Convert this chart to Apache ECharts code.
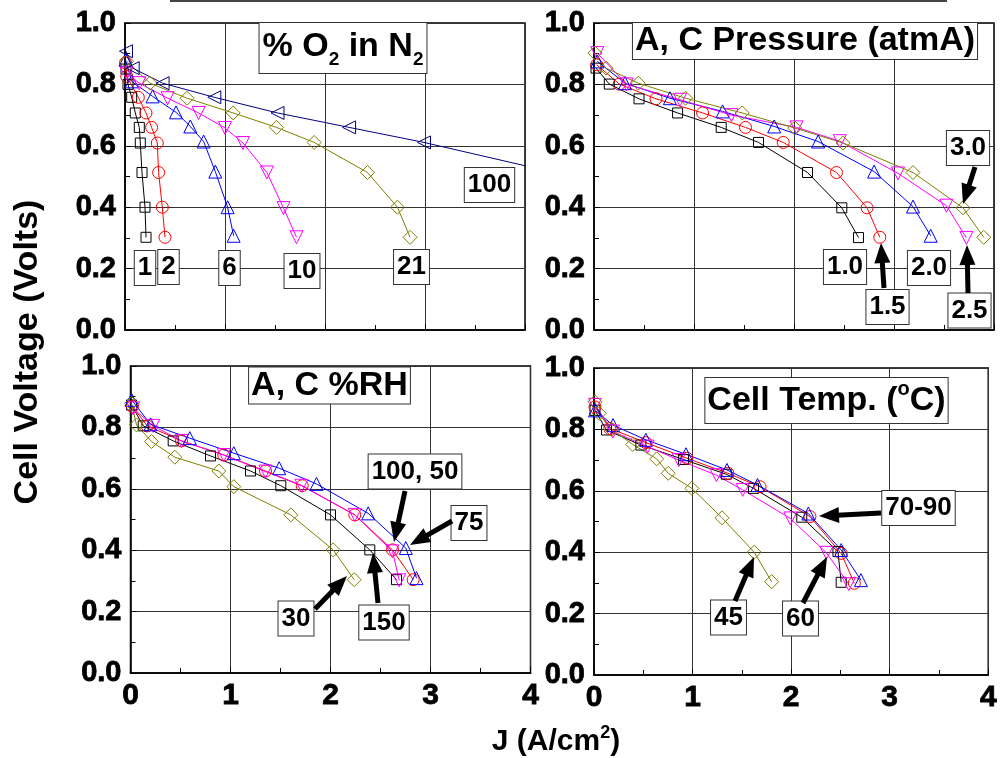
<!DOCTYPE html>
<html><head><meta charset="utf-8">
<script src="https://cdn.jsdelivr.net/npm/echarts@6/dist/echarts.min.js"></script>
<style>html,body{margin:0;padding:0;background:#fff}#c{width:1000px;height:758px}</style>
</head><body><div id="c"></div>
<script>
// ---------- DATA ----------
// Panel 1: % O2 in N2
const o2Names = ['1', '2', '6', '10', '21', '100'];
const o2_1_J = [0.01, 0.03, 0.067, 0.103, 0.143, 0.153, 0.170, 0.200, 0.210];
const o2_1_V = [0.85, 0.80, 0.758, 0.707, 0.660, 0.609, 0.513, 0.400, 0.302];
const o2_2_J = [0.005, 0.017, 0.133, 0.21, 0.266, 0.323, 0.336, 0.373, 0.40];
const o2_2_V = [0.87, 0.826, 0.758, 0.707, 0.66, 0.609, 0.513, 0.40, 0.302];
const o2_6_J = [0.005, 0.067, 0.276, 0.51, 0.653, 0.786, 0.903, 1.026, 1.086];
const o2_6_V = [0.88, 0.81, 0.761, 0.709, 0.663, 0.614, 0.516, 0.40, 0.307];
const o2_10_J = [0.017, 0.143, 0.426, 0.736, 1.0, 1.18, 1.419, 1.585, 1.715];
const o2_10_V = [0.836, 0.804, 0.755, 0.707, 0.658, 0.609, 0.513, 0.397, 0.302];
const o2_21_J = [0.017, 0.25, 0.62, 1.082, 1.515, 1.892, 2.425, 2.724, 2.851];
const o2_21_V = [0.875, 0.804, 0.755, 0.707, 0.66, 0.611, 0.513, 0.40, 0.302];
const o2_100_J = [0.01, 0.077, 0.376, 0.893, 1.525, 2.241, 2.99, 4.6];
const o2_100_V = [0.908, 0.853, 0.804, 0.758, 0.707, 0.66, 0.611, 0.49];

// Panel 2: A, C Pressure (atmA)
const pNames = ['1.0', '1.5', '2.0', '2.5', '3.0'];
const p10_J = [0.02, 0.153, 0.45, 0.836, 1.272, 1.645, 2.135, 2.478, 2.645];
const p10_V = [0.853, 0.801, 0.753, 0.707, 0.66, 0.611, 0.513, 0.398, 0.301];
const p15_J = [0.027, 0.253, 0.62, 1.086, 1.515, 1.892, 2.425, 2.731, 2.858];
const p15_V = [0.864, 0.801, 0.753, 0.707, 0.66, 0.611, 0.513, 0.398, 0.302];
const p20_J = [0.033, 0.31, 0.759, 1.286, 1.802, 2.241, 2.801, 3.19, 3.367];
const p20_V = [0.875, 0.804, 0.755, 0.712, 0.663, 0.614, 0.516, 0.402, 0.307];
const p25_J = [0.033, 0.326, 0.86, 1.375, 2.025, 2.458, 3.04, 3.524, 3.724];
const p25_V = [0.902, 0.80, 0.75, 0.70, 0.66, 0.615, 0.51, 0.405, 0.30];
const p30_J = [0.01, 0.12, 0.443, 0.916, 1.482, 2.008, 2.491, 3.19, 3.69, 3.897];
const p30_V = [0.902, 0.853, 0.804, 0.755, 0.707, 0.658, 0.609, 0.513, 0.398, 0.302];

// Panel 3: A, C %RH
const rhNames = ['150', '100', '50', '75', '30'];
const rh150_J = [0.01, 0.127, 0.427, 0.8, 1.2, 1.503, 2.0, 2.393, 2.66];
const rh150_V = [0.873, 0.805, 0.756, 0.707, 0.658, 0.61, 0.515, 0.401, 0.304];
const rh100_J = [0.02, 0.167, 0.51, 0.933, 1.35, 1.717, 2.243, 2.62, 2.827];
const rh100_V = [0.868, 0.805, 0.756, 0.71, 0.658, 0.61, 0.515, 0.401, 0.304];
const rh50_J = [0.027, 0.227, 0.51, 0.933, 1.35, 1.71, 2.243, 2.62, 2.687];
const rh50_V = [0.862, 0.805, 0.756, 0.71, 0.656, 0.61, 0.515, 0.396, 0.302];
const rh75_J = [0.01, 0.2, 0.593, 1.033, 1.487, 1.86, 2.377, 2.753, 2.86];
const rh75_V = [0.89, 0.81, 0.765, 0.716, 0.667, 0.616, 0.52, 0.407, 0.309];
const rh30_J = [0.01, 0.06, 0.21, 0.443, 0.883, 1.033, 1.603, 2.027, 2.237];
const rh30_V = [0.878, 0.808, 0.754, 0.703, 0.658, 0.607, 0.515, 0.401, 0.304];

// Panel 4: Cell Temp (C)
const tNames = ['70', '80', '90', '60', '45'];
const t70_J = [0.01, 0.127, 0.476, 0.909, 1.342, 1.619, 2.108, 2.475, 2.508];
const t70_V = [0.862, 0.798, 0.749, 0.702, 0.654, 0.608, 0.514, 0.402, 0.302];
const t80_J = [0.01, 0.16, 0.526, 0.943, 1.359, 1.685, 2.191, 2.508, 2.641];
const t80_V = [0.873, 0.803, 0.757, 0.706, 0.657, 0.613, 0.516, 0.396, 0.299];
const t90_J = [0.01, 0.193, 0.526, 0.933, 1.349, 1.659, 2.175, 2.508, 2.708];
const t90_V = [0.862, 0.814, 0.766, 0.719, 0.668, 0.619, 0.526, 0.407, 0.309];
const t60_J = [0.01, 0.193, 0.543, 0.86, 1.242, 1.509, 1.992, 2.358, 2.585];
const t60_V = [0.88, 0.793, 0.744, 0.70, 0.651, 0.603, 0.51, 0.398, 0.296];
const t45_J = [0.01, 0.053, 0.177, 0.393, 0.636, 0.753, 0.992, 1.299, 1.625, 1.802];
const t45_V = [0.89, 0.852, 0.80, 0.751, 0.704, 0.657, 0.608, 0.512, 0.40, 0.304];

// Axis ticks
const xTicks = [0, 1, 2, 3, 4];
const yTicks = [0, 0.2, 0.4, 0.6, 0.8, 1.0];

// ---------- STYLE ----------
const FONT = '"Liberation Sans", Arial, sans-serif';
const C = {black:'#000000', red:'#ff0000', blue:'#0000ff', magenta:'#ff00ff', olive:'#808000', navy:'#000080'};
const MK = {
  square: {symbol:'rect', size:10, rot:0},
  circle: {symbol:'circle', size:12, rot:0},
  up: {symbol:'triangle', size:13, rot:0},
  down: {symbol:'triangle', size:13, rot:180},
  left: {symbol:'triangle', size:13, rot:90},
  diamond: {symbol:'diamond', size:14, rot:0}
};

function zip(a, b) { return a.map((v, i) => [v, b[i]]); }
function mk(name, J, V, color, m, gi) {
  const s = MK[m];
  return {
    type:'line', name, xAxisIndex:gi, yAxisIndex:gi, data: zip(J, V),
    symbol: s.symbol, symbolSize: s.size, symbolRotate: s.rot, showAllSymbol:true,
    lineStyle:{color, width:1}, itemStyle:{color:'rgba(0,0,0,0)', borderColor:color, borderWidth:1},
    emphasis:{disabled:true}, animation:false, clip:true, z:3
  };
}

const series = [
  mk(o2Names[0], o2_1_J, o2_1_V, C.black, 'square', 0),
  mk(o2Names[1], o2_2_J, o2_2_V, C.red, 'circle', 0),
  mk(o2Names[2], o2_6_J, o2_6_V, C.blue, 'up', 0),
  mk(o2Names[3], o2_10_J, o2_10_V, C.magenta, 'down', 0),
  mk(o2Names[4], o2_21_J, o2_21_V, C.olive, 'diamond', 0),
  mk(o2Names[5], o2_100_J, o2_100_V, C.navy, 'left', 0),
  mk(pNames[0], p10_J, p10_V, C.black, 'square', 1),
  mk(pNames[1], p15_J, p15_V, C.red, 'circle', 1),
  mk(pNames[2], p20_J, p20_V, C.blue, 'up', 1),
  mk(pNames[3], p25_J, p25_V, C.magenta, 'down', 1),
  mk(pNames[4], p30_J, p30_V, C.olive, 'diamond', 1),
  mk(rhNames[0], rh150_J, rh150_V, C.black, 'square', 2),
  mk(rhNames[1], rh100_J, rh100_V, C.red, 'circle', 2),
  mk(rhNames[2], rh50_J, rh50_V, C.magenta, 'down', 2),
  mk(rhNames[3], rh75_J, rh75_V, C.blue, 'up', 2),
  mk(rhNames[4], rh30_J, rh30_V, C.olive, 'diamond', 2),
  mk(tNames[0], t70_J, t70_V, C.black, 'square', 3),
  mk(tNames[1], t80_J, t80_V, C.red, 'circle', 3),
  mk(tNames[2], t90_J, t90_V, C.blue, 'up', 3),
  mk(tNames[3], t60_J, t60_V, C.magenta, 'down', 3),
  mk(tNames[4], t45_J, t45_V, C.olive, 'diamond', 3)
];

const grids = [
  {left:125, top:23, width:400, height:307},
  {left:594, top:23, width:400, height:307},
  {left:130.5, top:366, width:400, height:307},
  {left:594, top:368, width:400, height:307}
].map(g => Object.assign(g, {show:true, borderColor:'#000', borderWidth:1.5, backgroundColor:'transparent'}));

const xAxes = grids.map((g, i) => ({
  type:'value', gridIndex:i, min:xTicks[0], max:xTicks[xTicks.length-1], interval:1,
  axisLine:{show:true, lineStyle:{color:'#000', width:1.5}},
  axisTick:{show:true, inside:true, length:6, lineStyle:{color:'#000'}},
  minorTick:{show:true, splitNumber:2, length:5, lineStyle:{color:'#000'}},
  splitLine:{show:true, lineStyle:{color:'#333', width:1}},
  axisLabel:{show: i >= 2, margin:8, color:'#000', fontSize:30, fontWeight:'bold', fontFamily:FONT,
    textBorderColor:'#000', textBorderWidth:0.8, formatter: v => String(v)}
}));
const yAxes = grids.map((g, i) => ({
  type:'value', gridIndex:i, min:yTicks[0], max:yTicks[yTicks.length-1], interval:0.2,
  axisLine:{show:true, lineStyle:{color:'#000', width:1.5}},
  axisTick:{show:true, inside:true, length:6, lineStyle:{color:'#000'}},
  minorTick:{show:true, splitNumber:2, length:5, lineStyle:{color:'#000'}},
  splitLine:{show:true, lineStyle:{color:'#333', width:1}},
  axisLabel:{show:true, margin:9, color:'#000', fontSize:29, fontWeight:'bold', fontFamily:FONT,
    textBorderColor:'#000', textBorderWidth:0.8, formatter: v => v.toFixed(1)}
}));

// ---------- ANNOTATIONS ----------
function box(x, y, text, opts) {
  opts = opts || {};
  return {type:'text', x, y, z:100, silent:true, style:Object.assign({
    text, fontSize:26, fontWeight:'bold', fontFamily:FONT, fill:'#000',
    align:'center', verticalAlign:'middle', backgroundColor:'#fff',
    borderColor:'#333', borderWidth:1, padding:[5,3,3,3]
  }, opts)};
}
function arrow(x1, y1, x2, y2) {
  const dx = x2-x1, dy = y2-y1, L = Math.hypot(dx, dy), ux = dx/L, uy = dy/L;
  const hl = 20, hw = 8;
  const bx = x2-ux*hl, by = y2-uy*hl;
  return [
    {type:'line', z:100, silent:true, shape:{x1, y1, x2:bx+ux*2, y2:by+uy*2}, style:{stroke:'#000', lineWidth:5}},
    {type:'polygon', z:100, silent:true, shape:{points:[[x2,y2],[bx-uy*hw, by+ux*hw],[bx+uy*hw, by-ux*hw]]}, style:{fill:'#000'}}
  ];
}
const titleRich = {
  a:{fontSize:34, fontWeight:'bold', fontFamily:FONT, lineHeight:44},
  s:{fontSize:19, fontWeight:'bold', fontFamily:FONT, lineHeight:14, verticalAlign:'bottom'},
  p:{fontSize:20, fontWeight:'bold', fontFamily:FONT, lineHeight:18, verticalAlign:'top'}
};
const graphics = [
  {type:'line', silent:true, shape:{x1:170, y1:1, x2:947, y2:1}, style:{stroke:'#444', lineWidth:2}},
  // panel 1
  box(343, 48, '{a|% O}{s|2}{a| in N}{s|2}', {rich:titleRich, padding:[2,3,4,3]}),
  box(145, 268, '1'), box(168.5, 267, '2'), box(229.5, 268, '6'),
  box(302, 271, '10'), box(411.5, 267, '21'), box(489.5, 185, '100'),
  // panel 2
  box(805, 41, 'A, C Pressure (atmA)', {fontSize:34, padding:[2,2,0,2]}),
  box(845, 267, '1.0'), box(887.5, 307, '1.5'), box(929, 268, '2.0'),
  box(969.5, 310.5, '2.5'), box(968, 148, '3.0'),
  ...arrow(884, 288, 881, 243), ...arrow(968, 293, 967, 245), ...arrow(975, 167, 963, 204),
  // panel 3
  box(329.5, 385.5, 'A, C %RH', {fontSize:34, padding:[2,2,0,2]}),
  box(415, 471.5, '100, 50'), box(469, 523, '75'), box(296, 618.5, '30'), box(384, 622.5, '150'),
  ...arrow(405, 491, 394, 542), ...arrow(452, 521, 410, 545), ...arrow(315, 609, 347, 576), ...arrow(378, 603, 373, 553),
  // panel 4
  box(826.5, 400.5, '{a|Cell Temp. (}{p|o}{a|C)}', {rich:titleRich, padding:[1,2,0,2]}),
  box(918.5, 508, '70-90'), box(728.5, 617.5, '45'), box(800.5, 618.5, '60'),
  ...arrow(881, 513, 819, 516), ...arrow(735, 601, 754, 557), ...arrow(803, 603, 827, 557),
  // axis titles
  {type:'text', x:28, y:352, rotation:Math.PI/2, silent:true, style:{text:'Cell Voltage (Volts)',
    fontSize:34, fontWeight:'bold', fontFamily:FONT, fill:'#000', align:'center', verticalAlign:'middle'}},
  {type:'text', x:556, y:742, silent:true, style:{text:'{a|J (A/cm}{p|2}{a|)}', fill:'#000', align:'center', verticalAlign:'middle',
    rich:{a:{fontSize:30, fontWeight:'bold', fontFamily:FONT, lineHeight:36},
          p:{fontSize:18, fontWeight:'bold', fontFamily:FONT, lineHeight:18, verticalAlign:'top'}}}}
];

const chart = echarts.init(document.getElementById('c'), null, {renderer:'canvas'});
chart.setOption({
  backgroundColor:'#fff', animation:false,
  grid: grids, xAxis: xAxes, yAxis: yAxes, series, graphic: graphics
});
</script>
</body></html>
